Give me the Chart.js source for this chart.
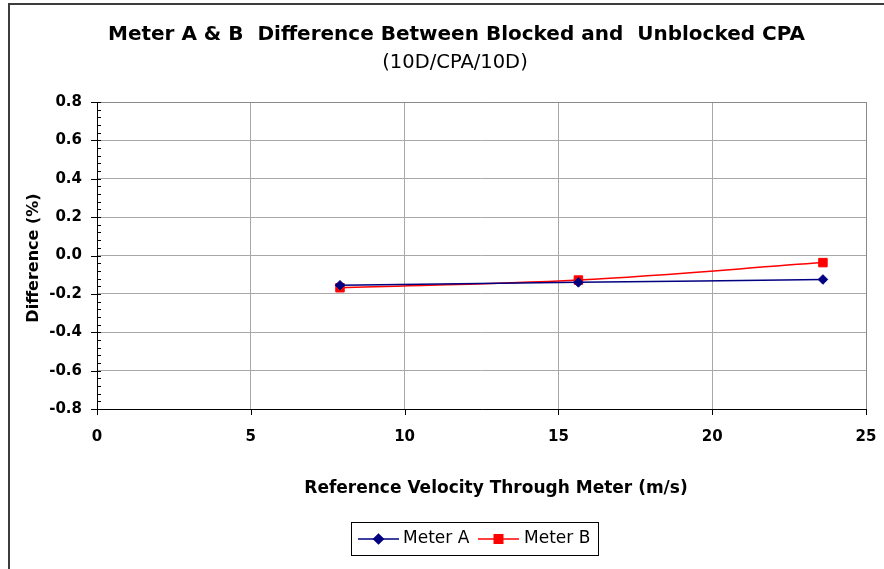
<!DOCTYPE html>
<html><head><meta charset="utf-8">
<script src="https://cdn.jsdelivr.net/npm/chart.js@4"></script>
<style>html,body{margin:0;padding:0;background:#fff;}#wrap{width:884px;height:569px;position:relative;}</style>
</head><body><div id="wrap"><canvas id="c" width="884" height="569"></canvas></div>
<script>
// ---- data ----
const velocity = [7.9, 15.65, 23.6];
const meterA = [-0.155, -0.140, -0.125];
const meterB = [-0.168, -0.128, -0.037];
const seriesNames = ['Meter A', 'Meter B'];
const xTicks = [0, 5, 10, 15, 20, 25];
const yTicks = [-0.8, -0.6, -0.4, -0.2, 0.0, 0.2, 0.4, 0.6, 0.8];
const titleText = 'Meter A & B  Difference Between Blocked and  Unblocked CPA';
const subtitleText = '(10D/CPA/10D)';
const xTitle = 'Reference Velocity Through Meter (m/s)';
const yTitle = 'Difference (%)';

const FONT = 'DejaVu Sans';
Chart.defaults.font.family = FONT;
Chart.defaults.color = '#000';

const decor = {
  id: 'decor',
  beforeDraw(chart) {
    const ctx = chart.ctx;
    ctx.save();
    ctx.strokeStyle = '#3c3c3c';
    ctx.lineWidth = 2;
    ctx.beginPath();
    ctx.moveTo(9, 569); ctx.lineTo(9, 4); ctx.lineTo(884, 4);
    ctx.stroke();
    ctx.restore();
  },
  beforeDatasetsDraw(chart) {
    const {ctx, chartArea: a, scales: {x, y}} = chart;
    ctx.save();
    ctx.lineWidth = 1;
    ctx.strokeStyle = '#8a8a8a';
    ctx.beginPath();
    ctx.moveTo(a.left, a.top + 0.5); ctx.lineTo(a.right + 0.5, a.top + 0.5); ctx.lineTo(a.right + 0.5, a.bottom);
    ctx.stroke();
    ctx.strokeStyle = '#000';
    ctx.beginPath();
    ctx.moveTo(a.left + 0.5, a.top); ctx.lineTo(a.left + 0.5, a.bottom + 0.5); ctx.lineTo(a.right + 1, a.bottom + 0.5);
    ctx.stroke();
    ctx.beginPath();
    yTicks.forEach(v => {
      const p = Math.round(y.getPixelForValue(v)) + 0.5;
      ctx.moveTo(a.left - 6, p); ctx.lineTo(a.left + 4, p);
    });
    for (let i = 0; i < yTicks.length - 1; i++) {
      const st = (yTicks[i + 1] - yTicks[i]) / 5;
      for (let k = 1; k < 5; k++) {
        const p = Math.round(y.getPixelForValue(yTicks[i] + k * st)) + 0.5;
        ctx.moveTo(a.left, p); ctx.lineTo(a.left + 4, p);
      }
    }
    xTicks.forEach(v => {
      const p = Math.round(x.getPixelForValue(v)) + 0.5;
      ctx.moveTo(p, a.bottom); ctx.lineTo(p, a.bottom + 6);
    });
    ctx.stroke();
    ctx.restore();
  },
  afterDraw(chart) {
    const ctx = chart.ctx;
    const ds = chart.data.datasets;
    ctx.save();
    ctx.fillStyle = '#000';
    ctx.textAlign = 'center';
    ctx.textBaseline = 'middle';
    ctx.font = 'bold 20px "' + FONT + '"';
    ctx.fillText(titleText, 456.5, 34.5);
    ctx.font = '19.5px "' + FONT + '"';
    ctx.fillText(subtitleText, 455, 63);
    ctx.font = 'bold 17px "' + FONT + '"';
    ctx.fillText(xTitle, 496, 489);
    ctx.save();
    ctx.translate(34, 258);
    ctx.rotate(-Math.PI / 2);
    ctx.font = 'bold 16px "' + FONT + '"';
    ctx.fillText(yTitle, 0, 0);
    ctx.restore();
    ctx.strokeStyle = '#000';
    ctx.lineWidth = 1;
    ctx.strokeRect(351.5, 522.5, 247, 33);
    const cy = 539;
    const items = [{x0: 358, x1: 399, tx: 403}, {x0: 478, x1: 519, tx: 524}];
    ctx.font = '17px "' + FONT + '"';
    ctx.textAlign = 'left';
    items.forEach((it, i) => {
      const d = ds[i];
      ctx.strokeStyle = d.borderColor;
      ctx.lineWidth = d.borderWidth;
      ctx.beginPath(); ctx.moveTo(it.x0, cy); ctx.lineTo(it.x1, cy); ctx.stroke();
      ctx.fillStyle = d.pointBackgroundColor;
      ctx.strokeStyle = d.pointBorderColor;
      Chart.helpers.drawPoint(ctx, {pointStyle: d.pointStyle, radius: d.pointRadius, borderWidth: d.pointBorderWidth, rotation: 0}, (it.x0 + it.x1) / 2, cy);
      ctx.fillStyle = '#000';
      ctx.fillText(d.label, it.tx, cy);
    });
    ctx.restore();
  }
};

const toPts = arr => velocity.map((v, i) => ({x: v, y: arr[i]}));

new Chart(document.getElementById('c'), {
  type: 'line',
  data: {
    datasets: [
      {label: seriesNames[0], data: toPts(meterA), borderColor: '#000080', backgroundColor: '#000080',
       pointBackgroundColor: '#000080', pointBorderColor: '#000080', pointStyle: 'rectRot', pointRadius: 4.8,
       pointBorderWidth: 1, borderWidth: 1.5, tension: 0.35, fill: false},
      {label: seriesNames[1], data: toPts(meterB), borderColor: '#ff0000', backgroundColor: '#ff0000',
       pointBackgroundColor: '#ff0000', pointBorderColor: '#ff0000', pointStyle: 'rect', pointRadius: 6,
       pointBorderWidth: 1, borderWidth: 1.5, tension: 0.35, fill: false}
    ]
  },
  options: {
    responsive: false,
    animation: false,
    events: [],
    layout: {padding: {left: 0, right: 18, top: 102, bottom: 0}},
    plugins: {
      legend: {display: false},
      tooltip: {enabled: false},
      title: {display: false},
      subtitle: {display: false}
    },
    scales: {
      x: {
        type: 'linear', min: 0, max: 25,
        afterBuildTicks: s => { s.ticks = xTicks.map(v => ({value: v})); },
        afterFit: s => { s.height = 160; s.paddingLeft = 0; s.paddingRight = 0; },
        grid: {color: '#a8a8a8', lineWidth: 1, drawTicks: false},
        border: {display: false},
        ticks: {font: {family: FONT, size: 15, weight: 'bold'}, color: '#000', padding: 19.5, maxRotation: 0}
      },
      y: {
        type: 'linear', min: -0.8, max: 0.8,
        afterBuildTicks: s => { s.ticks = yTicks.map(v => ({value: v})); },
        afterFit: s => { s.width = 97; s.paddingTop = 0; s.paddingBottom = 0; },
        grid: {color: '#a8a8a8', lineWidth: 1, drawTicks: false},
        border: {display: false},
        ticks: {font: {family: FONT, size: 15, weight: 'bold'}, color: '#000', padding: 15,
          callback: v => (Math.abs(v) < 1e-9 ? '0.0' : Number(v).toFixed(1))}
      }
    }
  },
  plugins: [decor]
});
</script>
</body></html>
